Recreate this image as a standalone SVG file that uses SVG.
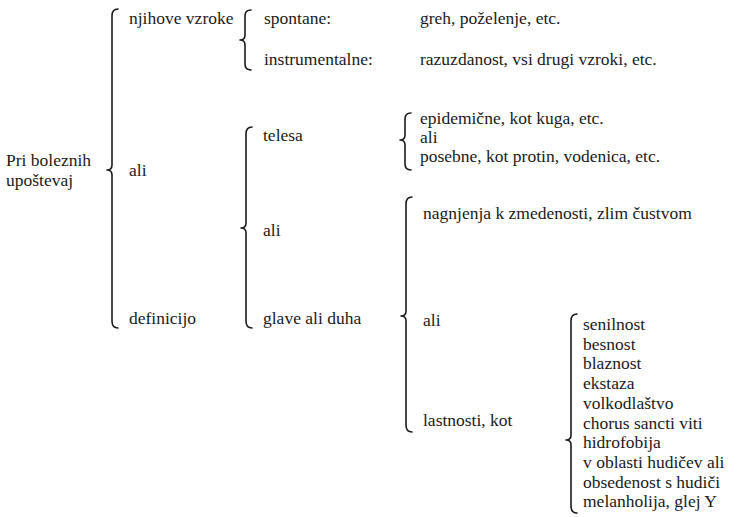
<svg xmlns="http://www.w3.org/2000/svg" width="743" height="517" viewBox="0 0 743 517">
<style>
.br{fill:none;stroke:#1a1a1a;stroke-width:1.6;stroke-linecap:round;stroke-linejoin:round}
</style>
<rect width="743" height="517" fill="#ffffff"/>
<g id="connectors">
<path class="br" d="M118 9 Q112 9 112 16 L112 165 Q112 170 107 170 Q112 170 112 175 L112 321 Q112 328 118 328"/>
<path class="br" d="M251 10 Q245 10 245 16 L245 35 Q245 40 240 40 Q245 40 245 45 L245 64 Q245 70 251 70"/>
<path class="br" d="M252 127 Q246 127 246 134 L246 223 Q246 228 241 228 Q246 228 246 233 L246 321 Q246 328 252 328"/>
<path class="br" d="M411 113 Q405 113 405 119 L405 135 Q405 140 400 140 Q405 140 405 145 L405 164 Q405 170 411 170"/>
<path class="br" d="M412 197 Q406 197 406 204 L406 311 Q406 316 401 316 Q406 316 406 321 L406 425 Q406 432 412 432"/>
<path class="br" d="M577 314 Q571 314 571 321 L571 435 Q571 440 566 440 Q571 440 571 445 L571 506 Q571 513 577 513"/>
</g>
<g font-family="Liberation Serif, serif" font-size="17.5" fill="#1a1a1a">
<g id="root"><text x="6" y="166">Pri boleznih</text><text x="6" y="186">upoštevaj</text></g>
<g id="n-vzroke"><text x="129" y="24">njihove vzroke</text></g>
<g id="n-ali1"><text x="129" y="176">ali</text></g>
<g id="n-definicijo"><text x="129" y="324">definicijo</text></g>
<g id="n-spontane"><text x="264" y="24">spontane:</text><text x="420" y="24">greh, poželenje, etc.</text></g>
<g id="n-instrumentalne"><text x="264" y="65">instrumentalne:</text><text x="420" y="65">razuzdanost, vsi drugi vzroki, etc.</text></g>
<g id="n-telesa"><text x="263" y="141">telesa</text></g>
<g id="n-telesa-list"><text x="420" y="124">epidemične, kot kuga, etc.</text><text x="420" y="143">ali</text><text x="420" y="162">posebne, kot protin, vodenica, etc.</text></g>
<g id="n-ali2"><text x="263" y="236">ali</text></g>
<g id="n-glave"><text x="263" y="324">glave ali duha</text></g>
<g id="n-nagnjenja"><text x="423" y="219">nagnjenja k zmedenosti, zlim čustvom</text></g>
<g id="n-ali3"><text x="423" y="326">ali</text></g>
<g id="n-lastnosti"><text x="423" y="426">lastnosti, kot</text></g>
<g id="n-list">
<text x="583" y="330">senilnost</text>
<text x="583" y="350">besnost</text>
<text x="583" y="369">blaznost</text>
<text x="583" y="389">ekstaza</text>
<text x="583" y="409">volkodlaštvo</text>
<text x="583" y="429">chorus sancti viti</text>
<text x="583" y="448">hidrofobija</text>
<text x="583" y="468">v oblasti hudičev ali</text>
<text x="583" y="488">obsedenost s hudiči</text>
<text x="583" y="507">melanholija, glej Y</text>
</g>
</g>
</svg>
